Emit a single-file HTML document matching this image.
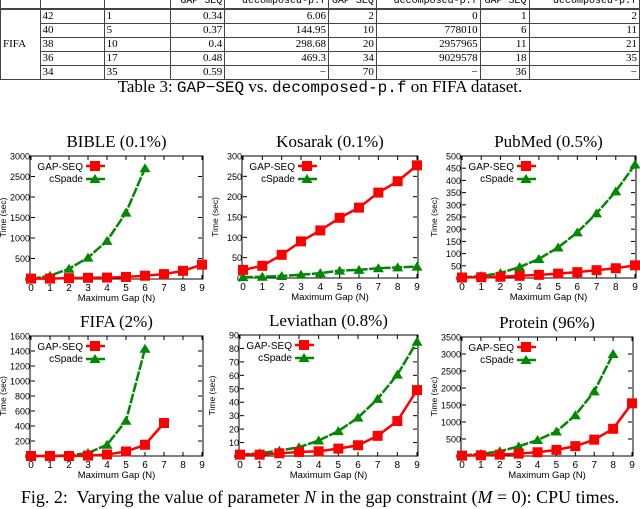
<!DOCTYPE html>
<html><head><meta charset="utf-8">
<style>
body{margin:0;background:#fff;width:640px;height:509px;overflow:hidden;position:relative;font-family:"Liberation Serif",serif}
table{position:absolute;left:0;top:-6px;border-collapse:collapse;font-size:11px}
td{border:1px solid #444;padding:0 2px;height:13px;line-height:13px;overflow:hidden}
.m{font-family:"Liberation Mono",monospace;font-size:10px}
.r{text-align:right}
#cap1{position:absolute;top:77px;left:0;width:640px;text-align:center;font-size:17px}
#cap2{position:absolute;top:487px;left:0;width:640px;text-align:center;font-size:18px;white-space:nowrap}
svg{position:absolute;left:0;top:0}
</style></head><body>
<table>
<tr style="border-bottom:2px solid #444"><td style="width:35px"></td><td style="width:61px"></td><td style="width:63px"></td><td class="m r" style="width:50px">GAP−SEQ</td><td class="m r" style="width:100px">decomposed-p.f</td><td class="m r" style="width:43px">GAP−SEQ</td><td class="m r" style="width:100px">decomposed-p.f</td><td class="m r" style="width:44px">GAP−SEQ</td><td class="m r" style="width:107px">decomposed-p.f</td></tr>
<tr><td rowspan="5">FIFA</td><td>42</td><td>1</td><td class="r">0.34</td><td class="r">6.06</td><td class="r">2</td><td class="r">0</td><td class="r">1</td><td class="r">2</td></tr>
<tr><td>40</td><td>5</td><td class="r">0.37</td><td class="r">144.95</td><td class="r">10</td><td class="r">778010</td><td class="r">6</td><td class="r">11</td></tr>
<tr><td>38</td><td>10</td><td class="r">0.4</td><td class="r">298.68</td><td class="r">20</td><td class="r">2957965</td><td class="r">11</td><td class="r">21</td></tr>
<tr><td>36</td><td>17</td><td class="r">0.48</td><td class="r">469.3</td><td class="r">34</td><td class="r">9029578</td><td class="r">18</td><td class="r">35</td></tr>
<tr><td>34</td><td>35</td><td class="r">0.59</td><td class="r">−</td><td class="r">70</td><td class="r">−</td><td class="r">36</td><td class="r">−</td></tr>
</table>
<div id="cap1">Table 3: <span class="m" style="font-size:16px">GAP−SEQ</span> vs. <span class="m" style="font-size:16px">decomposed-p.f</span> on FIFA dataset.</div>
<div id="cap2">Fig. 2:&nbsp; Varying the value of parameter <i>N</i> in the gap constraint (<i>M</i> = 0): CPU times.</div>
<svg id="chart" width="640" height="509"></svg>
<script>
const xTicks=[0,1,2,3,4,5,6,7,8,9];
const titles=["BIBLE (0.1%)","Kosarak (0.1%)","PubMed (0.5%)","FIFA (2%)","Leviathan (0.8%)","Protein (96%)"];
const yMaxes=[3000,300,500,1600,90,3500];
const ySteps=[500,50,50,200,10,500];
const gapBible=[10,10,20,30,35,50,80,120,200,350];
const cspBible=[0,80,250,520,930,1620,2700];
const gapKosarak=[20,30,57,90,117,148,173,210,238,277];
const cspKosarak=[2,3,5,8,12,18,20,24,26,28];
const gapPubmed=[2,3,5,9,13,18,24,32,40,52];
const cspPubmed=[2,8,20,45,78,125,187,265,355,465];
const gapFifa=[0,0,0,5,20,60,150,440];
const cspFifa=[0,0,10,40,150,470,1430];
const gapLev=[1,1,2,3,3.5,5.5,8,15,26,49];
const cspLev=[1,2,4,6.5,11.5,18.5,28.5,42.5,60.5,85];
const gapProt=[10,20,40,70,110,180,290,480,800,1550];
const cspProt=[20,60,140,280,470,720,1200,1900,3000];
const gapSeries=[gapBible,gapKosarak,gapPubmed,gapFifa,gapLev,gapProt];
const cspSeries=[cspBible,cspKosarak,cspPubmed,cspFifa,cspLev,cspProt];
const boxes=[[31,156,202,279],[243,156,417,278],[462,156,635,278],[31,336,202,456],[240,335,417,456],[462,337,632,456]];
const names=["bible","kosarak","pubmed","fifa","leviathan","protein"];
const svg=document.getElementById('chart');
const NS='http://www.w3.org/2000/svg';
function mk(tag,attrs,parent){const e=document.createElementNS(NS,tag);for(const k in attrs)e.setAttribute(k,attrs[k]);(parent||svg).appendChild(e);return e;}
function txt(s,attrs,parent){const e=mk('text',attrs,parent);e.textContent=s;return e;}
function sq(g,x,y){const e=mk('rect',{x:x-5,y:y-5,width:10,height:10,fill:'#f00'},g);}
function tri(g,x,y){const e=mk('polygon',{points:`${x},${y-5} ${x+5.5},${y+4} ${x-5.5},${y+4}`,fill:'#080'},g);}
for(let c=0;c<6;c++){
  const [l,t,r,b]=boxes[c];
  const g=mk('g',{});
  
  
  const xs=v=>l+(r-l)*v/9;
  const ys=v=>b-(b-t)*v/yMaxes[c];
  const tt=txt(titles[c],{x:(l+r)/2,y:t-9,'text-anchor':'middle','font-size':17,'font-family':'Liberation Serif,serif'},g);
  
  
  mk('rect',{x:l-1,y:t,width:r-l+2,height:b-t,fill:'none',stroke:'#000','stroke-width':1},g);
  for(const v of xTicks){
    const x=xs(v);
    mk('line',{x1:x,y1:b,x2:x,y2:b-4,stroke:'#000'},g);
    mk('line',{x1:x,y1:t,x2:x,y2:t+4,stroke:'#000'},g);
    txt(String(v),{x:x,y:b+12,'text-anchor':'middle','font-size':10,'font-family':'Liberation Sans,sans-serif'},g);
  }
  for(let v=0;v<=yMaxes[c]+1e-9;v+=ySteps[c]){
    const y=ys(v);
    mk('line',{x1:l,y1:y,x2:l+4,y2:y,stroke:'#000'},g);
    mk('line',{x1:r,y1:y,x2:r-4,y2:y,stroke:'#000'},g);
    txt(String(v),{x:l-1,y:y+3.5,'text-anchor':'end','font-size':9,'font-family':'Liberation Sans,sans-serif','textLength':String(v).length*5,'lengthAdjust':'spacingAndGlyphs'},g);
  }
  const yt=txt('Time (sec)',{transform:`translate(${l-25},${(t+b)/2}) rotate(-90)`,'text-anchor':'middle','font-size':8.5,'font-family':'Liberation Sans,sans-serif'},g);
  
  
  const xt=txt('Maximum Gap (N)',{x:(l+r)/2,y:b+22,'text-anchor':'middle','font-size':9.5,'font-family':'Liberation Sans,sans-serif'},g);
  
  
  const cs=cspSeries[c];
  const cl=mk('polyline',{points:cs.map((v,i)=>xs(i)+','+ys(v)).join(' '),fill:'none',stroke:'#080','stroke-width':2.5,'stroke-dasharray':'10,1.5'},g);
  
  
  cs.forEach((v,i)=>tri(g,xs(i),ys(v)));
  const gs=gapSeries[c];
  const gl=mk('polyline',{points:gs.map((v,i)=>xs(i)+','+ys(v)).join(' '),fill:'none',stroke:'#f00','stroke-width':2.5},g);
  
  
  gs.forEach((v,i)=>sq(g,xs(i),ys(v)));
  const lg=mk('g',{},g);
  
  
  const lx=l+52;
  txt('GAP-SEQ',{x:lx,y:t+14,'text-anchor':'end','font-size':10,'font-family':'Liberation Sans,sans-serif'},lg);
  mk('line',{x1:lx+3,y1:t+10,x2:lx+22,y2:t+10,stroke:'#f00','stroke-width':2.5},lg);
  sq(lg,lx+12,t+10);
  txt('cSpade',{x:lx,y:t+26,'text-anchor':'end','font-size':10,'font-family':'Liberation Sans,sans-serif'},lg);
  mk('line',{x1:lx+3,y1:t+23,x2:lx+22,y2:t+23,stroke:'#080','stroke-width':2.5},lg);
  tri(lg,lx+12,t+23);
}
</script>
</body></html>
